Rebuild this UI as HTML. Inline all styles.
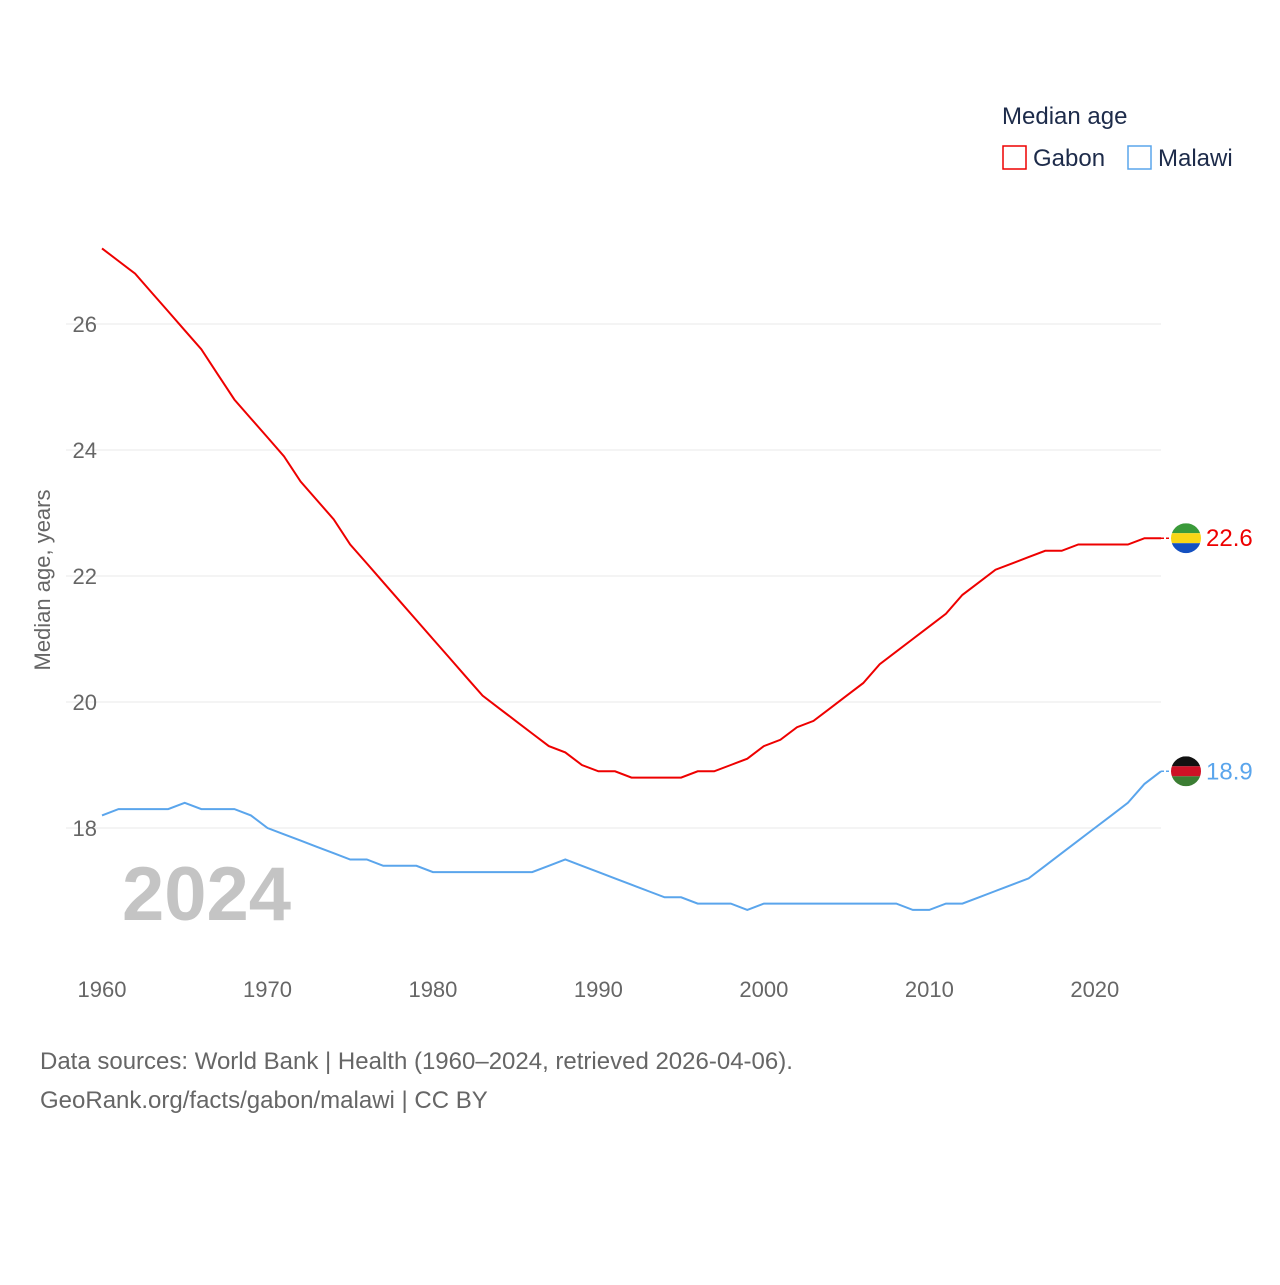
<!DOCTYPE html>
<html><head><meta charset="utf-8">
<style>
body{margin:0;background:#fff;font-family:"Liberation Sans",sans-serif;}
svg text{font-family:"Liberation Sans",sans-serif;}
</style></head>
<body>
<svg id="chart" width="1280" height="1280" xmlns="http://www.w3.org/2000/svg">
<rect width="1280" height="1280" fill="#fff"/>
<g id="grid"></g>
<g id="yticks"></g>
<g id="xticks"></g>
<text transform="translate(50,580) rotate(-90)" text-anchor="middle" font-size="22" fill="#666">Median age, years</text>
<text x="122" y="920" font-size="76" font-weight="bold" fill="#c4c4c4">2024</text>
<g id="series"></g>
<text x="1002" y="124" font-size="24" fill="#1d2b4a">Median age</text>
<g>
<rect x="1003" y="146" width="23" height="23" fill="none" stroke="#ee0000" stroke-width="1.5"/>
<text x="1033" y="166" font-size="24" fill="#1d2b4a">Gabon</text></g>
<g>
<rect x="1128" y="146" width="23" height="23" fill="none" stroke="#5aa5ec" stroke-width="1.5"/>
<text x="1158" y="166" font-size="24" fill="#1d2b4a">Malawi</text></g>
<text x="40" y="1069" font-size="24" fill="#666">Data sources: World Bank | Health (1960–2024, retrieved 2026-04-06).</text>
<text x="40" y="1108" font-size="24" fill="#666">GeoRank.org/facts/gabon/malawi | CC BY</text>
</svg>
<script>
const years=[];for(let y=1960;y<=2024;y++)years.push(y);
const gabon=[27.2,27.0,26.8,26.5,26.2,25.9,25.6,25.2,24.8,24.5,24.2,23.9,23.5,23.2,22.9,22.5,22.2,21.9,21.6,21.3,21.0,20.7,20.4,20.1,19.9,19.7,19.5,19.3,19.2,19.0,18.9,18.9,18.8,18.8,18.8,18.8,18.9,18.9,19.0,19.1,19.3,19.4,19.6,19.7,19.9,20.1,20.3,20.6,20.8,21.0,21.2,21.4,21.7,21.9,22.1,22.2,22.3,22.4,22.4,22.5,22.5,22.5,22.5,22.6,22.6];
const malawi=[18.2,18.3,18.3,18.3,18.3,18.4,18.3,18.3,18.3,18.2,18.0,17.9,17.8,17.7,17.6,17.5,17.5,17.4,17.4,17.4,17.3,17.3,17.3,17.3,17.3,17.3,17.3,17.4,17.5,17.4,17.3,17.2,17.1,17.0,16.9,16.9,16.8,16.8,16.8,16.7,16.8,16.8,16.8,16.8,16.8,16.8,16.8,16.8,16.8,16.7,16.7,16.8,16.8,16.9,17.0,17.1,17.2,17.4,17.6,17.8,18.0,18.2,18.4,18.7,18.9];
const yTicks=[18,20,22,24,26];
const xTicks=[1960,1970,1980,1990,2000,2010,2020];
const NS="http://www.w3.org/2000/svg";
const X=v=>102+(v-1960)*(1161-102)/64;
const Y=v=>828-(v-18)*63;
function el(t,a,p){const e=document.createElementNS(NS,t);for(const k in a)e.setAttribute(k,a[k]);p.appendChild(e);return e;}
const grid=document.getElementById('grid'),yt=document.getElementById('yticks'),xt=document.getElementById('xticks'),ser=document.getElementById('series');
yTicks.forEach(v=>{
 const l=el('line',{x1:66,x2:1161,y1:Y(v),y2:Y(v),stroke:'#e8e8e8','stroke-width':1},grid);
 
 
 const t=el('text',{x:97,y:Y(v)+8,'text-anchor':'end','font-size':22,fill:'#666'},yt);t.textContent=v;
 
 
});
xTicks.forEach(v=>{
 const t=el('text',{x:X(v),y:997,'text-anchor':'middle','font-size':22,fill:'#666'},xt);t.textContent=v;
 
 
});
function line(vals,color,name){
 const d=vals.map((v,i)=>(i?'L':'M')+X(years[i]).toFixed(1)+','+Y(v).toFixed(1)).join('');
 const p=el('path',{d:d,fill:'none',stroke:color,'stroke-width':2},ser);
 
 
 const last=vals[vals.length-1];
 const c=el('line',{x1:X(2024),x2:1186,y1:Y(last),y2:Y(last),stroke:color,'stroke-width':1.5,'stroke-dasharray':'3,2'},ser);
 
 
 const lb=el('text',{x:1206,y:Y(last)+8,'font-size':24,fill:color},ser);lb.textContent=last.toFixed(1);
 
 
 return Y(last);
}
const gy=line(gabon,'#ee0000','gabon');
const my=line(malawi,'#5aa5ec','malawi');
// flags
function flag(cy,stripes,name){
 const g=el('g',{},ser);
 
 
 const id='clip'+name;
 const cp=el('clipPath',{id:id},g);el('circle',{cx:1186,cy:cy,r:15},cp);
 const h=30/stripes.length;
 stripes.forEach((c,i)=>el('rect',{x:1171,y:cy-15+i*h,width:30,height:h,fill:c,'clip-path':'url(#'+id+')'},g));
}
flag(gy,['#3a9a3a','#f9d616','#1450c0'],'gabon');
flag(my,['#111','#ce1126','#3b7d33'],'malawi');
</script>
</body></html>
